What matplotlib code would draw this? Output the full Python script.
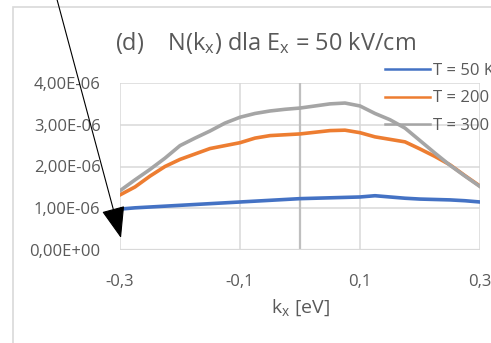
import matplotlib
matplotlib.use("Agg")
import matplotlib.pyplot as plt
from matplotlib.patches import Rectangle, FancyArrowPatch
from matplotlib.lines import Line2D
import numpy as np

plt.rcParams['font.family'] = ['Open Sans', 'DejaVu Sans']
plt.rcParams['mathtext.default'] = 'regular'

# ---- data ----
kx = [-0.300, -0.275, -0.250, -0.225, -0.200, -0.175, -0.150, -0.125, -0.100,
      -0.075, -0.050, -0.025, 0.000, 0.025, 0.050, 0.075, 0.100, 0.125,
      0.150, 0.175, 0.200, 0.225, 0.250, 0.275, 0.300]
n_50 = [0.98, 1.01, 1.03, 1.05, 1.07, 1.09, 1.11, 1.13, 1.15, 1.17, 1.19, 1.21,
        1.23, 1.24, 1.25, 1.26, 1.27, 1.30, 1.27, 1.24, 1.22, 1.21, 1.20, 1.18, 1.15]
n_200 = [1.32, 1.51, 1.77, 2.00, 2.17, 2.30, 2.43, 2.50, 2.57, 2.68, 2.74, 2.76,
         2.78, 2.82, 2.86, 2.87, 2.81, 2.71, 2.65, 2.59, 2.42, 2.24, 2.04, 1.78, 1.53]
n_300 = [1.42, 1.68, 1.93, 2.20, 2.50, 2.68, 2.85, 3.04, 3.18, 3.27, 3.33, 3.37,
         3.40, 3.45, 3.50, 3.52, 3.45, 3.27, 3.12, 2.92, 2.62, 2.32, 2.03, 1.77, 1.52]
series_labels = ['T = 50 K', 'T = 200 K', 'T = 300 K']
series_colors = ['#4472C4', '#ED7D31', '#A5A5A5']
y_ticks = [0, 1e-6, 2e-6, 3e-6, 4e-6]
y_ticklabels = ['0,00E+00', '1,00E-06', '2,00E-06', '3,00E-06', '4,00E-06']
x_ticks = [-0.3, -0.1, 0.1, 0.3]
x_ticklabels = ['-0,3', '-0,1', '0,1', '0,3']

W, H = 491, 343
fig = plt.figure(figsize=(W / 100, H / 100), dpi=100)
fig.patch.set_facecolor('white')

def fx(px):
    return px / W

def fy(py):
    return 1 - py / H

# chart frame (extends beyond the cropped image)
fig.patches.append(Rectangle((fx(13), fy(400)), 1.2, fy(7) - fy(400),
                             transform=fig.transFigure, fill=False,
                             edgecolor='#D9D9D9', lw=1.2, zorder=0))

ax = fig.add_axes([fx(120), fy(250), fx(480) - fx(120), fy(83) - fy(250)])
ax.set_xlim(-0.3, 0.3)
ax.set_ylim(0, 4e-6)

txt = '#595959'
ax.set_yticks(y_ticks)
ax.set_yticklabels(y_ticklabels)
ax.set_xticks(x_ticks)
ax.set_xticklabels(x_ticklabels)
ax.tick_params(axis='both', length=0, labelsize=12, colors=txt)
ax.tick_params(axis='y', pad=14)
ax.tick_params(axis='x', pad=17)
for s in ax.spines.values():
    s.set_visible(False)
ax.grid(True, color='#D9D9D9', lw=1.1)
ax.set_axisbelow(True)
ax.axvline(0, color='#BFBFBF', lw=1.6, zorder=1)
ax.axhline(0, color='#D9D9D9', lw=1.6, zorder=1)

k = np.array(kx)
for vals, lab, col in zip([n_50, n_200, n_300], series_labels, series_colors):
    ax.plot(k, np.array(vals) * 1e-6, color=col, lw=2.6, label=lab,
            solid_joinstyle='round', zorder=3)

# legend
handles = [Line2D([], [], color=c, lw=1.8) for c in series_colors]
leg = fig.legend(handles, series_labels, loc='upper left',
                 bbox_to_anchor=(fx(385), fy(63)), frameon=False,
                 fontsize=12, handlelength=2.7, handletextpad=0.2,
                 labelspacing=0.68, borderaxespad=0, borderpad=0)
for t in leg.get_texts():
    t.set_color(txt)

# title and axis label
fig.text(fx(265), fy(49.5), '(d)    N(k$_x$) dla E$_x$ = 50 kV/cm',
         ha='center', va='baseline', fontsize=16.9, color=txt)
fig.text(fx(300), fy(313), 'k$_x$ [eV]', ha='center', va='baseline',
         fontsize=14, color=txt)

# annotation arrow
arrow = FancyArrowPatch(posA=(fx(55), fy(-8)), posB=(fx(121), fy(238)),
                        transform=fig.transFigure,
                        arrowstyle='-|>,head_length=2.0,head_width=0.75',
                        mutation_scale=10, color='black', lw=0.8,
                        shrinkA=0, shrinkB=0, zorder=10)
fig.patches.append(arrow)

fig.savefig('out.png', dpi=100)
